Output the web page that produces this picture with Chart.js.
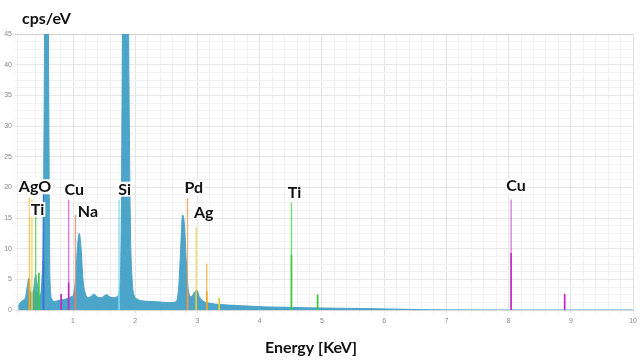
<!DOCTYPE html>
<html>
<head>
<meta charset="utf-8">
<script src="https://cdn.jsdelivr.net/npm/chart.js@4"></script>
<style>
  html, body { margin: 0; padding: 0; background: #fff; }
  #box { width: 641px; height: 363px; position: relative; }
</style>
</head>
<body>
<div id="box"><canvas id="spectrum"></canvas></div>
<script>
// EDS spectrum, energy in keV, intensity in cps/eV
const energy = [0.12, 0.16, 0.2, 0.24, 0.27, 0.29, 0.31, 0.34, 0.37, 0.4, 0.42, 0.45, 0.48, 0.5, 0.52, 0.54, 0.555, 0.59, 0.61, 0.63, 0.66,
  0.7, 0.78, 0.85, 0.92, 0.98, 1.0, 1.04, 1.07, 1.1, 1.13, 1.16, 1.2, 1.24, 1.3, 1.34, 1.38, 1.45, 1.5, 1.54, 1.6, 1.66, 1.72,
  1.76, 1.78, 1.8, 1.82, 1.86, 1.89, 1.92, 1.95, 1.98, 2.03, 2.1, 2.25, 2.4, 2.55, 2.66, 2.7, 2.73, 2.76, 2.79, 2.82, 2.85, 2.9,
  2.96, 2.99, 3.03, 3.1, 3.2, 3.35, 3.5, 3.7, 3.9, 4.1, 4.4, 4.8, 5.2, 5.6, 6.0, 6.3, 6.6, 7.0, 8.0, 9.0, 10.0];
const counts = [0.6, 1.3, 1.6, 2.2, 4.2, 5.2, 3.2, 2.4, 3.5, 5.8, 4.5, 2.2, 2.6, 5, 12, 40, 80, 80, 35, 5, 1.8,
  1.4, 1.6, 1.7, 1.9, 2.2, 2.3, 5, 10, 12.5, 10, 5, 2.6, 2.0, 2.3, 2.6, 2.2, 2.0, 2.3, 2.5, 2.1, 2.0, 2.3,
  5, 20, 60, 100, 100, 50, 15, 5, 2.5, 1.8, 1.5, 1.4, 1.3, 1.2, 1.4, 4, 10, 15.5, 14, 8, 3.5, 2.2,
  3, 3.2, 2.2, 1.4, 1.1, 0.9, 0.8, 0.7, 0.6, 0.5, 0.45, 0.35, 0.3, 0.25, 0.18, 0.12, 0.06, 0.02, 0, 0, 0];

// element marker lines
const lineElement = ['Ag', 'Ag2', 'Ti', 'Ti', 'O', 'Cu', 'Cu', 'Na', 'Si', 'Pd', 'Ag2', 'Ag', 'Ag2', 'Ti', 'Ti', 'Cu', 'Cu'];
const lineEnergy = [0.30, 0.34, 0.40, 0.45, 0.525, 0.81, 0.93, 1.04, 1.74, 2.84, 2.98, 3.15, 3.35, 4.51, 4.93, 8.04, 8.90];
const lineHeight = [18.3, 18, 17.5, 6, 20, 2.6, 18, 15.5, 18, 18.3, 13.5, 7.6, 2, 17.5, 2.5, 18, 2.6];
const lineCore = [5, 3, 3, 6, 8, 2.6, 4.5, 3, 3, 3, 3, 3, 2, 9, 2.5, 9.3, 2.6];

// element labels
const labelText = ['AgO', 'Ti', 'Cu', 'Na', 'Si', 'Pd', 'Ag', 'Ti', 'Cu'];
const labelEnergy = [0.39, 0.43, 1.02, 1.24, 1.83, 2.94, 3.10, 4.56, 8.12];
const labelLevel = [19.2, 15.5, 18.8, 15.2, 18.8, 19.1, 15.0, 18.3, 19.4];

const yTicks = [0, 5, 10, 15, 20, 25, 30, 35, 40, 45];

const colors = {
  Ag: ['rgba(245,166,35,0.7)', '#f5a623'],
  Ag2: ['rgba(236,206,60,0.75)', '#e8c830'],
  Ti: ['rgba(80,210,80,0.8)', '#3cc83c'],
  O: ['rgba(60,110,215,0.85)', '#3b6fd6'],
  Cu: ['rgba(210,80,210,0.75)', '#c428c4'],
  Na: ['rgba(232,144,122,0.85)', '#e07a62'],
  Si: ['rgba(130,220,240,0.9)', '#6fd3ea'],
  Pd: ['rgba(240,160,80,0.8)', '#ee9640']
};

const datasets = [];
lineEnergy.forEach((e, i) => {
  const c = colors[lineElement[i]];
  datasets.push({
    data: [{x: e, y: 0}, {x: e, y: lineCore[i]}],
    borderColor: c[1], borderWidth: 1.6, pointRadius: 0, fill: false
  });
  datasets.push({
    data: [{x: e, y: 0}, {x: e, y: lineHeight[i]}],
    borderColor: c[0], borderWidth: 1.4, pointRadius: 0, fill: false
  });
});
datasets.push({
  data: energy.map((e, i) => ({x: e, y: counts[i]})),
  borderColor: '#4aa2c8', backgroundColor: '#4ba5cb', borderWidth: 1,
  pointRadius: 0, fill: 'origin', cubicInterpolationMode: 'monotone'
});

const isWhole = v => Math.abs(v - Math.round(v)) < 1e-6;

// titles and element labels
const textPlugin = {
  id: 'texts',
  afterDatasetsDraw(chart) {
    const ctx = chart.ctx;
    const x = chart.scales.x, y = chart.scales.y;
    ctx.save();
    ctx.font = 'bold 16px Lato';
    ctx.textBaseline = 'alphabetic';
    ctx.textAlign = 'center';
    labelText.forEach((t, i) => {
      const px = x.getPixelForValue(labelEnergy[i]);
      const py = y.getPixelForValue(labelLevel[i]);
      const w = ctx.measureText(t).width;
      ctx.fillStyle = '#fff';
      ctx.fillRect(px - w / 2 - 1, py - 13, w + 2, 15);
      ctx.fillStyle = '#111';
      ctx.fillText(t, px, py);
    });
    ctx.textAlign = 'left';
    ctx.fillText('cps/eV', 22, 24);
    ctx.textAlign = 'center';
    ctx.fillText('Energy [KeV]', 311, 353);
    ctx.restore();
  }
};

new Chart(document.getElementById('spectrum'), {
  type: 'line',
  data: {datasets: datasets},
  options: {
    responsive: true,
    maintainAspectRatio: false,
    animation: false,
    layout: {padding: {top: 34, right: 6, left: 0, bottom: 0}},
    plugins: {legend: {display: false}, tooltip: {enabled: false}},
    scales: {
      x: {
        type: 'linear', min: 0.1, max: 10,
        afterFit: s => { s.height = 53; },
        grid: {
          color: c => isWhole(c.tick.value) ? '#e4e4e4' : '#f0f0f0',
          tickLength: 3
        },
        border: {color: '#d8d8d8'},
        ticks: {
          stepSize: 0.2, autoSkip: false, maxRotation: 0, padding: 4,
          color: '#888', font: {size: 7, family: 'Liberation Sans'},
          callback: v => isWhole(v) && v > 0 ? String(Math.round(v)) : ''
        }
      },
      y: {
        min: 0, max: 45,
        afterFit: s => { s.width = 17; },
        grid: {
          color: c => c.tick.value === 45 ? '#cfcfcf' : (yTicks.includes(c.tick.value) ? '#e6e6e6' : '#f1f1f1'),
          tickLength: 2
        },
        border: {display: false},
        ticks: {
          stepSize: 1.25, autoSkip: false, padding: 3,
          color: '#888', font: {size: 7, family: 'Liberation Sans'},
          callback: v => yTicks.includes(v) ? String(v) : ''
        }
      }
    }
  },
  plugins: [textPlugin]
});
</script>
</body>
</html>
